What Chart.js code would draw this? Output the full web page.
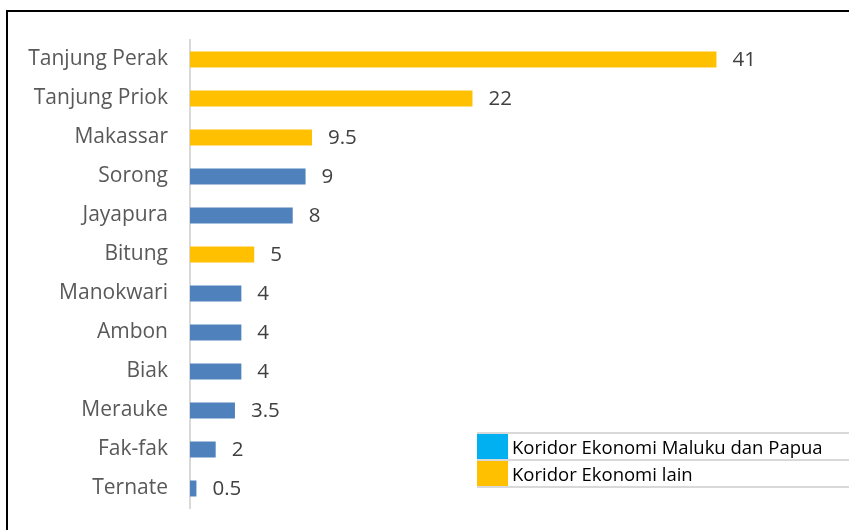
<!DOCTYPE html>
<html>
<head>
<meta charset="utf-8">
<script src="https://cdn.jsdelivr.net/npm/chart.js@4"></script>
<style>
  body{margin:0;background:#fff;overflow:hidden;}
  #wrap{position:relative;width:849px;height:530px;}
  canvas{display:block;}
  #frame{position:absolute;left:6px;top:10px;right:0;bottom:0;border-top:2px solid #000;border-left:2px solid #000;pointer-events:none;}
  #legend{position:absolute;left:477px;top:432px;width:372px;border-collapse:collapse;font-family:"Open Sans",sans-serif;font-size:18.5px;color:#000;}
  #legend td{border-top:2px solid #d9d9d9;border-bottom:2px solid #d9d9d9;height:25px;padding:0 0 0 4px;line-height:25px;white-space:nowrap;}
  #legend td.sw{width:31px;padding:0;}
</style>
</head>
<body>
<div id="wrap">
  <canvas id="mycanvas" width="849" height="530"></canvas>
  <div id="frame"></div>
  <table id="legend"></table>
</div>
<script>
// data, top to bottom
var ports=["Tanjung Perak","Tanjung Priok","Makassar","Sorong","Jayapura","Bitung","Manokwari","Ambon","Biak","Merauke","Fak-fak","Ternate"]
var values=[41,22,9.5,9,8,5,4,4,4,3.5,2,0.5]
// 1 = Koridor Ekonomi Maluku dan Papua, 0 = lain
var corridor=[0,0,0,1,1,0,1,1,1,1,1,1]

var legendLabels=["Koridor Ekonomi Maluku dan Papua","Koridor Ekonomi lain"]
var legendColors=["#00B0F0","#FFC000"]

var barColors=corridor.map(function(c){ return c==1 ? "#4F81BD" : "#FFC000" })

//-----------------------------------------------------------------------------------------

// value labels next to bars
var valueLabels={
    id:"valueLabels",
    afterDatasetsDraw:function(chart){
        var ctx=chart.ctx
        var meta=chart.getDatasetMeta(0)
        ctx.save()
        ctx.font='20.5px "Open Sans", sans-serif'
        ctx.fillStyle="#404040"
        ctx.textAlign="left"
        ctx.textBaseline="middle"
        meta.data.forEach(function(bar,i){
            ctx.fillText(String(values[i]),bar.x+16,bar.y+1)
        })
        ctx.restore()
    }
}

function drawchart(){
    const canvas=document.getElementById("mycanvas")
    const ctx=canvas.getContext("2d")
    new Chart(ctx,{
        type:"bar",
        data:{
            labels:ports,
            datasets:[{
                data:values,
                backgroundColor:barColors,
                categoryPercentage:1,
                barPercentage:0.41
            }]
        },
        options:{
            indexAxis:"y",
            responsive:false,
            animation:false,
            layout:{padding:{left:0,right:17,top:40,bottom:22}},
            plugins:{legend:{display:false},tooltip:{enabled:false}},
            scales:{
                x:{display:false,min:0,max:50},
                y:{
                    grid:{display:false,drawTicks:false},
                    border:{display:true,color:"#d9d9d9",width:2},
                    ticks:{color:"#595959",padding:22,font:{family:"Open Sans",size:21}},
                    afterFit:function(scale){
                        scale.width=190
                        scale.paddingTop=0
                        scale.paddingBottom=0
                    }
                }
            }
        },
        plugins:[valueLabels]
    })
}

function drawlegend(){
    var table=document.getElementById("legend")
    legendLabels.forEach(function(lab,i){
        var tr=document.createElement("tr")
        var sw=document.createElement("td")
        sw.className="sw"
        sw.style.background=legendColors[i]
        var td=document.createElement("td")
        td.textContent=lab
        tr.appendChild(sw)
        tr.appendChild(td)
        table.appendChild(tr)
    })
}

drawchart()
drawlegend()
</script>
</body>
</html>
